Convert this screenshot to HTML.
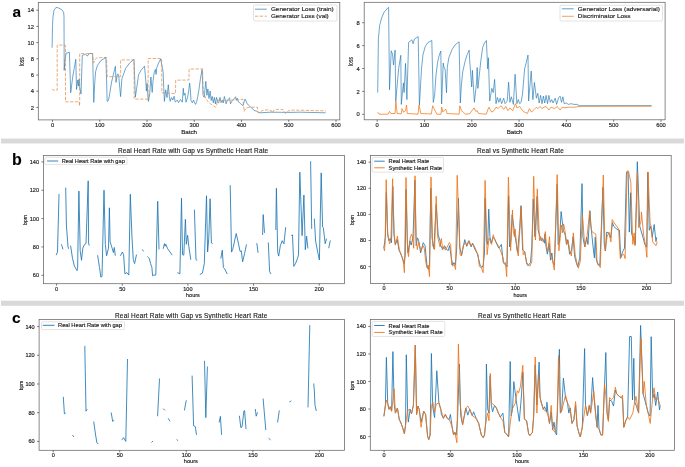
<!DOCTYPE html>
<html><head><meta charset="utf-8"><style>
html,body{margin:0;padding:0;background:#fff;overflow:hidden;width:685px;height:467px;}
svg{display:block;filter:blur(0.4px);}
text{font-family:"Liberation Sans", sans-serif;fill:#222;stroke:#222;stroke-width:0.15px;}
</style></head><body>
<svg width="685" height="467" viewBox="0 0 685 467">
<rect width="685" height="467" fill="#fff"/>
<rect x="1" y="138.55" width="683" height="4.9" fill="#d9d9d9"/>
<rect x="1" y="300.7" width="683" height="5.1" fill="#d9d9d9"/>
<clipPath id="clipA"><rect x="0" y="0" width="20.5" height="30"/></clipPath>
<text x="12.4" y="16.6" font-size="15.5" font-weight="bold" style="fill:#000;stroke:#000;stroke-width:0.1px" clip-path="url(#clipA)">a</text>
<text x="12.0" y="164.8" font-size="16.0" font-weight="bold" style="fill:#000;stroke:#000;stroke-width:0.1px">b</text>
<text x="12.0" y="323.1" font-size="15.5" font-weight="bold" style="fill:#000;stroke:#000;stroke-width:0.1px">c</text>
<clipPath id="cAL"><rect x="38.3" y="2.4" width="301.5" height="117.5"/></clipPath>
<g clip-path="url(#cAL)" fill="none" stroke-linejoin="round" stroke-linecap="butt">
<polyline points="52.1,47.7 52.5,25.7 53,16.7 54,10.3 55.9,7.5 57.9,7.7 61.7,9.6 63.6,12.2 64,16.7 64.2,70.3 65,60 66.2,52.9 67.5,53 69.4,52.2 70.7,92.7 73,75 75.8,59.3 76.5,89.5 77.8,80 78.5,86 79.2,79 79.7,87.5 81,94 82.3,55.4 83.6,54.8 85.5,54.5 87.4,56 88,55 89.3,53.5 92.6,53.5 93.8,102.4 94.6,85 95.6,71.6 97.5,65.2 101.4,60.1 105.9,57.5 107.2,101.5 108.4,100.5 109.1,97.3 111.6,81.9 115.4,66.3 116,82.4 117.4,74 118.6,74.7 120.6,96.6 121.9,78.6 125.7,68.3 129.6,63.1 134,59.3 135.3,97.2 136.6,88.8 138.6,74.7 141.1,70.2 144.5,66.1 145.8,80.8 146.4,91.1 147.1,83.4 148.4,101.4 149.6,95 150.9,77 152.2,92.4 152.9,82.1 154.1,73.1 155.4,69.3 156.1,74.4 156.7,68 158.6,62.9 160.6,59 161.9,65.4 163.1,71.9 163.8,88.6 164.4,101.4 165.7,89.8 167,97.6 168.3,84.7 169.3,96.3 170.2,101.4 171.5,97.6 172.8,100.1 174.1,96.3 175.3,102 177.3,100.1 178.6,102.7 180,100.1 180.7,99.6 182.3,102.2 183.3,88.3 183.9,95.3 185,93.2 186,102.2 187.6,97.4 188.7,91 189.6,83 190.3,88.9 191,100.6 192.4,102.8 193.5,100.1 194.6,102.8 195.6,104.4 196.7,101.7 197.8,96.4 198.9,89.9 200.5,78.2 202.1,69.6 203.1,95.3 204.2,97.4 205.8,81.4 206.9,95.3 207.9,88.9 209,98.5 210.1,91 211.2,100.6 212.2,96.4 213.3,102.8 214.4,97.4 215.4,103.9 216.5,97.4 218,102.8 218.8,102.6 220,97.4 221.1,102.6 222.3,100.3 223.2,102.9 224.4,96.5 225.5,100.9 226.1,103.8 227.3,100.6 228.5,98.8 229.6,97.9 230.5,103.8 231.7,101.5 232.5,100.3 234.3,98.5 235.5,96.8 236.3,100.3 237.2,98.2 238.4,102 239.6,102.6 240.7,103.8 241.9,105 243.1,105.5 244.2,101.5 245.1,99.1 246,100.9 246.9,103.2 248.3,105 250.1,106.7 251.8,107.9 253.6,109.9 255,110.8 256.9,111.1 258.2,112.4 260,112.8 270,112.2 290,112.4 300,112.2 325.7,112.8" stroke="#1f77b4" stroke-width="0.65"/>
<polyline points="52.1,88.9 53.4,90.2 57.2,90.2 57.2,45.1 64.3,45.1 65.5,45.5 65.5,101.8 79.3,101.8 79.5,106 79.7,101.8 79.7,53.5 92.4,53.6 93.7,62.7 95.6,58.8 97,57.8 106.5,57.5 107.2,76.6 120.6,76.6 120.6,59.9 134,59.9 134.2,99.1 148,99.1 148.2,58.5 161.6,58.5 161.9,92.8 175.5,93.5 175.7,80.2 188.9,80 189.1,69.1 202.6,68.8 203.1,91 205.8,98.5 209,102.8 212.2,104.9 215.4,107.1 216.6,106.3 217,100.1 225,100.5 235,99.8 242.9,99.3 244.2,111.5 246,108 250,107.1 256.8,107.2 257.4,107.1 258.2,112.8 259.7,112.5 262,110.7 266.7,109.8 271.4,110.7 272.5,113 273.7,110.1 278.4,109.3 283,109.5 285.4,113.6 288.9,110.5 293.5,110.1 325.7,110.9" stroke="#e3883f" stroke-width="0.7" stroke-dasharray="3.3 1.5"/>
</g>
<rect x="38.3" y="2.4" width="301.5" height="117.5" fill="none" stroke="#666666" stroke-width="0.75"/>
<line x1="52.5" y1="119.9" x2="52.5" y2="121.9" stroke="#333" stroke-width="0.65"/>
<text x="52.5" y="126.88" font-size="5.8" text-anchor="middle">0</text>
<line x1="99.75" y1="119.9" x2="99.75" y2="121.9" stroke="#333" stroke-width="0.65"/>
<text x="99.75" y="126.88" font-size="5.8" text-anchor="middle">100</text>
<line x1="147" y1="119.9" x2="147" y2="121.9" stroke="#333" stroke-width="0.65"/>
<text x="147" y="126.88" font-size="5.8" text-anchor="middle">200</text>
<line x1="194.25" y1="119.9" x2="194.25" y2="121.9" stroke="#333" stroke-width="0.65"/>
<text x="194.25" y="126.88" font-size="5.8" text-anchor="middle">300</text>
<line x1="241.5" y1="119.9" x2="241.5" y2="121.9" stroke="#333" stroke-width="0.65"/>
<text x="241.5" y="126.88" font-size="5.8" text-anchor="middle">400</text>
<line x1="288.75" y1="119.9" x2="288.75" y2="121.9" stroke="#333" stroke-width="0.65"/>
<text x="288.75" y="126.88" font-size="5.8" text-anchor="middle">500</text>
<line x1="336" y1="119.9" x2="336" y2="121.9" stroke="#333" stroke-width="0.65"/>
<text x="336" y="126.88" font-size="5.8" text-anchor="middle">600</text>
<line x1="36.3" y1="107.4" x2="38.3" y2="107.4" stroke="#333" stroke-width="0.65"/>
<text x="33.9" y="109.59" font-size="5.8" text-anchor="end">2</text>
<line x1="36.3" y1="91.2" x2="38.3" y2="91.2" stroke="#333" stroke-width="0.65"/>
<text x="33.9" y="93.39" font-size="5.8" text-anchor="end">4</text>
<line x1="36.3" y1="75" x2="38.3" y2="75" stroke="#333" stroke-width="0.65"/>
<text x="33.9" y="77.19" font-size="5.8" text-anchor="end">6</text>
<line x1="36.3" y1="58.8" x2="38.3" y2="58.8" stroke="#333" stroke-width="0.65"/>
<text x="33.9" y="60.99" font-size="5.8" text-anchor="end">8</text>
<line x1="36.3" y1="42.6" x2="38.3" y2="42.6" stroke="#333" stroke-width="0.65"/>
<text x="33.9" y="44.79" font-size="5.8" text-anchor="end">10</text>
<line x1="36.3" y1="26.4" x2="38.3" y2="26.4" stroke="#333" stroke-width="0.65"/>
<text x="33.9" y="28.59" font-size="5.8" text-anchor="end">12</text>
<line x1="36.3" y1="10.2" x2="38.3" y2="10.2" stroke="#333" stroke-width="0.65"/>
<text x="33.9" y="12.39" font-size="5.8" text-anchor="end">14</text>
<text x="189.1" y="134.3" font-size="5.4" text-anchor="middle" textLength="15.9" lengthAdjust="spacingAndGlyphs">Batch</text>
<text x="24" y="61.65" font-size="6.3" text-anchor="middle" textLength="9" lengthAdjust="spacingAndGlyphs" transform="rotate(-90 24 61.65)">loss</text>
<rect x="253.5" y="5.0" width="83.4" height="16" rx="1.2" fill="#fff" fill-opacity="0.85" stroke="#d0d0d0" stroke-width="0.6"/>
<line x1="255" y1="9.2" x2="266.8" y2="9.2" stroke="#1f77b4" stroke-width="0.7"/>
<text x="270.9" y="11.2" font-size="5.7" textLength="62.7" lengthAdjust="spacingAndGlyphs">Generator Loss (train)</text>
<line x1="255" y1="16.2" x2="266.8" y2="16.2" stroke="#e3883f" stroke-width="0.7" stroke-dasharray="3.3 1.5"/>
<text x="270.9" y="18.2" font-size="5.7" textLength="57.8" lengthAdjust="spacingAndGlyphs">Generator Loss (val)</text>
<clipPath id="cAR"><rect x="364.2" y="2.3" width="300.9" height="117.5"/></clipPath>
<g clip-path="url(#cAR)" fill="none" stroke-linejoin="round" stroke-linecap="butt">
<polyline points="377.7,92.6 378.4,38.6 379.6,25.7 381.6,18 384.1,12.2 388,7.7 388.6,7.5 389.5,89.8 391.2,50.8 392.5,54 393.5,65 395.1,50.1 395.8,101 398.6,68.9 400.8,55.3 401.3,104.4 403.4,82.9 404.1,92.6 405.5,63.4 406.9,99.6 408.6,42.4 411.8,39.8 413.1,43.7 414.3,39.2 418.2,36.6 419.4,105.1 421.5,68.9 422.9,55 425.3,46.3 428,42.5 431.8,40.5 433.3,102.4 434.7,94.4 436,75.1 437.6,62.3 439,56 440.8,51 441.6,104 443.2,63.1 444,67.1 445.2,70 446.5,92.8 447.3,67.1 448.9,57.5 452.1,49.4 455,45 459.1,41.8 460.3,103 461.4,84.8 462.7,72 465.3,60.4 467.2,54.5 469.2,50.1 469.6,59.2 471.7,87 472.4,70.3 474.4,102.3 476.5,82.9 477.2,67.5 477.9,88.4 480.7,62 482.6,47.6 484.5,43 486.4,40.5 487.7,68.9 488.4,57.8 489.7,101 491.8,88.4 493.2,92.6 494.6,79.4 496,103.7 497.4,97.5 498.8,102.3 500.2,98.2 501.6,103.7 503.7,98.2 505.1,103.7 507.2,101 508.6,82.2 509.9,102.3 511.3,96.8 513.4,104.4 515.1,74.3 516.9,103.7 518.3,99.6 519.7,103.7 521.1,102.3 522.5,94 524.6,68.9 525.4,66 528,55.1 528.6,101 531.2,71.1 532.9,99.6 534.4,82.5 536.4,98.2 537.8,93.3 539.2,103 540.6,95.4 542,103.7 543.4,96.1 544.7,103 546.1,95.4 547.5,103.7 548.9,95.4 550.3,102.3 551.7,99.6 553.1,103 555.2,98.2 556.6,104.4 558.7,97.5 560.1,96.1 561.5,102.3 562.9,96.8 564.2,103.7 566.3,103 568.4,104.4 571.2,103.7 574,104.4 576.8,104.4 579.6,105.7 651.5,105.6" stroke="#1f77b4" stroke-width="0.65"/>
<polyline points="377.7,112.1 379,114.2 388.1,114.2 389.5,111.4 390.9,113.5 395.1,113.5 395.8,101 397.2,113.5 401.3,113.8 402,108.6 403.4,112.1 405.5,110.7 406.5,105.1 407.3,113.5 418,114.2 419,105.1 420.8,113.5 431.3,114 432.7,105.8 434,108.6 435.4,111.4 436.8,114.2 441,114.2 441.7,107.2 442.8,112.1 444.5,110 445.9,109.3 447,113.5 459.1,114.2 459.8,105.8 461.5,110.7 463.3,112.1 465.4,114.2 469.6,113.8 472.4,110 474,107.9 475.8,111.4 477.2,110.7 478.6,113.5 486.3,114.2 487.7,110 489,107.2 490.4,110 491.8,112.1 493.9,110.7 496,107.2 498.1,108.6 500.9,105.8 503.7,109.3 505.8,106.5 507.9,110.7 509.9,107.9 512.7,110.7 515.5,103.7 516.9,107.9 519.7,106.5 522.5,110.7 524.6,112.1 527.4,113.5 529.4,108.6 531.5,112.1 534.3,109.3 535,108.6 536.4,107.2 537.8,108.6 539.9,106.5 542,108.6 544,107.2 546.1,106.5 548.9,110 551,107.2 554.5,108.6 557.3,106.5 560.1,110 562.2,107.2 565,107.9 568.4,107.2 574,107.2 576.8,106.8 582.4,106.3 651.5,106.2" stroke="#f07818" stroke-width="0.75"/>
</g>
<rect x="364.2" y="2.3" width="300.9" height="117.5" fill="none" stroke="#666666" stroke-width="0.75"/>
<line x1="377.2" y1="119.8" x2="377.2" y2="121.8" stroke="#333" stroke-width="0.65"/>
<text x="377.2" y="126.78" font-size="5.8" text-anchor="middle">0</text>
<line x1="424.5" y1="119.8" x2="424.5" y2="121.8" stroke="#333" stroke-width="0.65"/>
<text x="424.5" y="126.78" font-size="5.8" text-anchor="middle">100</text>
<line x1="471.8" y1="119.8" x2="471.8" y2="121.8" stroke="#333" stroke-width="0.65"/>
<text x="471.8" y="126.78" font-size="5.8" text-anchor="middle">200</text>
<line x1="519.1" y1="119.8" x2="519.1" y2="121.8" stroke="#333" stroke-width="0.65"/>
<text x="519.1" y="126.78" font-size="5.8" text-anchor="middle">300</text>
<line x1="566.4" y1="119.8" x2="566.4" y2="121.8" stroke="#333" stroke-width="0.65"/>
<text x="566.4" y="126.78" font-size="5.8" text-anchor="middle">400</text>
<line x1="613.7" y1="119.8" x2="613.7" y2="121.8" stroke="#333" stroke-width="0.65"/>
<text x="613.7" y="126.78" font-size="5.8" text-anchor="middle">500</text>
<line x1="661" y1="119.8" x2="661" y2="121.8" stroke="#333" stroke-width="0.65"/>
<text x="661" y="126.78" font-size="5.8" text-anchor="middle">600</text>
<line x1="362.2" y1="114.3" x2="364.2" y2="114.3" stroke="#333" stroke-width="0.65"/>
<text x="359.8" y="116.49" font-size="5.8" text-anchor="end">0</text>
<line x1="362.2" y1="91.4" x2="364.2" y2="91.4" stroke="#333" stroke-width="0.65"/>
<text x="359.8" y="93.59" font-size="5.8" text-anchor="end">2</text>
<line x1="362.2" y1="68.5" x2="364.2" y2="68.5" stroke="#333" stroke-width="0.65"/>
<text x="359.8" y="70.69" font-size="5.8" text-anchor="end">4</text>
<line x1="362.2" y1="45.6" x2="364.2" y2="45.6" stroke="#333" stroke-width="0.65"/>
<text x="359.8" y="47.79" font-size="5.8" text-anchor="end">6</text>
<line x1="362.2" y1="22.7" x2="364.2" y2="22.7" stroke="#333" stroke-width="0.65"/>
<text x="359.8" y="24.89" font-size="5.8" text-anchor="end">8</text>
<text x="514.6" y="134.3" font-size="5.4" text-anchor="middle" textLength="15.8" lengthAdjust="spacingAndGlyphs">Batch</text>
<text x="353.3" y="61.5" font-size="6.3" text-anchor="middle" textLength="9" lengthAdjust="spacingAndGlyphs" transform="rotate(-90 353.3 61.5)">loss</text>
<rect x="560.0" y="5.3" width="102.5" height="15.7" rx="1.2" fill="#fff" fill-opacity="0.85" stroke="#d0d0d0" stroke-width="0.6"/>
<line x1="561.9" y1="8.8" x2="573.7" y2="8.8" stroke="#1f77b4" stroke-width="0.7"/>
<text x="577.8" y="10.8" font-size="5.7" textLength="82" lengthAdjust="spacingAndGlyphs">Generator Loss (adversarial)</text>
<line x1="561.9" y1="16.3" x2="573.7" y2="16.3" stroke="#f07818" stroke-width="0.7"/>
<text x="577.8" y="18.3" font-size="5.7" textLength="52.6" lengthAdjust="spacingAndGlyphs">Discriminator Loss</text>
<clipPath id="cBL"><rect x="43.4" y="155.4" width="301" height="128.3"/></clipPath>
<g clip-path="url(#cBL)" fill="none" stroke-linejoin="round" stroke-linecap="butt">
<polyline points="56.2,255.2 57.5,252 59,194" stroke="#1f77b4" stroke-width="0.85"/>
<polyline points="61.3,244.3 62.2,246.5 62.9,249.4" stroke="#1f77b4" stroke-width="0.85"/>
<polyline points="65.7,187.6 66.4,225 68,246.8 68.6,248.8" stroke="#1f77b4" stroke-width="0.85"/>
<polyline points="70.6,245.6 72.5,258.4 74.4,266.1 77,270.6 77.6,268.7 78.9,191.1 80.2,250.7 81.5,260.3 82.8,248.1 84.5,244.5 86,243.6 88.2,180.8 88.6,243 89.2,245.6" stroke="#1f77b4" stroke-width="0.85"/>
<polyline points="97.6,255.2 99.5,267.4 100.8,277.1 102,276.4 104,190.2 105.3,244.3 106.6,255.8 108.5,248.1 109.4,207.8 110.1,241.7 112.1,248.1 113.4,252.6 114.3,247.5 115.3,255.8" stroke="#1f77b4" stroke-width="0.85"/>
<polyline points="120.4,255.8 122.4,252 123.6,254.6 124.9,273.8 126.9,272.6 128.8,275.1 130.3,194.3 132,237.9 133.3,259.7 134.6,263.6 136.5,254.6" stroke="#1f77b4" stroke-width="0.85"/>
<polyline points="142.3,249.4 143.6,251.4" stroke="#1f77b4" stroke-width="0.85"/>
<polyline points="147.4,256.5 149.3,258.4 150.6,263.6 151.9,267.4 152.6,275.8 153.8,275.1 155.8,275.1 157.7,201.3 159,249.4" stroke="#1f77b4" stroke-width="0.85"/>
<polyline points="163.2,248.8 164.5,243.6 165.1,246.2 165.8,244.3 167.7,248.8 172.2,255.2" stroke="#1f77b4" stroke-width="0.85"/>
<polyline points="177.4,272.6 179.9,273.8 181.5,198.1 182.5,254.6 183.8,255.2 185.4,219.3 186.3,244.3 187.6,235.3 188.9,246.9 190.8,259.7" stroke="#1f77b4" stroke-width="0.85"/>
<polyline points="194.4,209.7 196,259.7 197.3,260.3" stroke="#1f77b4" stroke-width="0.85"/>
<polyline points="199.8,274.5 202.4,273.2 204.3,263.6 206.5,195.8 207.6,252 208.8,237.9 210.1,198.8 211.4,243 212.7,243.6" stroke="#1f77b4" stroke-width="0.85"/>
<polyline points="220.8,258.6 222.3,250.2 223.4,267.6 224.6,268.8 227.2,274" stroke="#1f77b4" stroke-width="0.85"/>
<polyline points="230.2,185.1 231.5,252.1 232.7,249.6 236.2,233.5 238.1,241.9 240.1,251.5 241.3,250.8 242.6,261.8 244.6,253.4 246.5,244.4" stroke="#1f77b4" stroke-width="0.85"/>
<polyline points="256.8,243.1 258.1,252.8" stroke="#1f77b4" stroke-width="0.85"/>
<polyline points="262.6,235 263.2,214.6 264.5,232.9" stroke="#1f77b4" stroke-width="0.85"/>
<polyline points="268.3,242.5 269.6,271.4 270.9,274" stroke="#1f77b4" stroke-width="0.85"/>
<polyline points="275.8,230 276.4,188.3 277.7,252.3 278.7,256.1 280.3,245.8 282.2,240.7 283.9,243.9 285.7,227.2" stroke="#1f77b4" stroke-width="0.85"/>
<polyline points="291.2,235.6 292.5,234.9 293.8,266.4 295.7,263.2 297.6,258.1 298.5,254.8 299.8,172.2 302.1,235.6 303.9,195 305.3,249.7 306.6,236.2 307.9,248.4" stroke="#1f77b4" stroke-width="0.85"/>
<polyline points="310.6,161.3 311.7,228.9" stroke="#1f77b4" stroke-width="0.85"/>
<polyline points="314.3,218.6 315.6,241.1 318.1,254 319.4,260 321.2,172.9 322.6,227 323.3,227.6 325.2,243.7 326.5,238.6" stroke="#1f77b4" stroke-width="0.85"/>
<polyline points="328.7,248.2 330.3,240.5" stroke="#1f77b4" stroke-width="0.85"/>
</g>
<rect x="43.4" y="155.4" width="301" height="128.3" fill="none" stroke="#666666" stroke-width="0.75"/>
<line x1="56.6" y1="283.7" x2="56.6" y2="285.7" stroke="#333" stroke-width="0.65"/>
<text x="56.6" y="290.5" font-size="5.0" text-anchor="middle" textLength="3.1" lengthAdjust="spacingAndGlyphs">0</text>
<line x1="122.25" y1="283.7" x2="122.25" y2="285.7" stroke="#333" stroke-width="0.65"/>
<text x="122.25" y="290.5" font-size="5.0" text-anchor="middle" textLength="6.2" lengthAdjust="spacingAndGlyphs">50</text>
<line x1="187.9" y1="283.7" x2="187.9" y2="285.7" stroke="#333" stroke-width="0.65"/>
<text x="187.9" y="290.5" font-size="5.0" text-anchor="middle" textLength="9.3" lengthAdjust="spacingAndGlyphs">100</text>
<line x1="253.55" y1="283.7" x2="253.55" y2="285.7" stroke="#333" stroke-width="0.65"/>
<text x="253.55" y="290.5" font-size="5.0" text-anchor="middle" textLength="9.3" lengthAdjust="spacingAndGlyphs">150</text>
<line x1="319.2" y1="283.7" x2="319.2" y2="285.7" stroke="#333" stroke-width="0.65"/>
<text x="319.2" y="290.5" font-size="5.0" text-anchor="middle" textLength="9.3" lengthAdjust="spacingAndGlyphs">200</text>
<line x1="41.4" y1="275.3" x2="43.4" y2="275.3" stroke="#333" stroke-width="0.65"/>
<text x="39" y="277.3" font-size="5.0" text-anchor="end" textLength="6.2" lengthAdjust="spacingAndGlyphs">60</text>
<line x1="41.4" y1="246.95" x2="43.4" y2="246.95" stroke="#333" stroke-width="0.65"/>
<text x="39" y="248.95" font-size="5.0" text-anchor="end" textLength="6.2" lengthAdjust="spacingAndGlyphs">80</text>
<line x1="41.4" y1="218.6" x2="43.4" y2="218.6" stroke="#333" stroke-width="0.65"/>
<text x="39" y="220.6" font-size="5.0" text-anchor="end" textLength="9.3" lengthAdjust="spacingAndGlyphs">100</text>
<line x1="41.4" y1="190.25" x2="43.4" y2="190.25" stroke="#333" stroke-width="0.65"/>
<text x="39" y="192.25" font-size="5.0" text-anchor="end" textLength="9.3" lengthAdjust="spacingAndGlyphs">120</text>
<line x1="41.4" y1="161.9" x2="43.4" y2="161.9" stroke="#333" stroke-width="0.65"/>
<text x="39" y="163.9" font-size="5.0" text-anchor="end" textLength="9.3" lengthAdjust="spacingAndGlyphs">140</text>
<text x="192.9" y="296.7" font-size="5.2" text-anchor="middle" textLength="13.7" lengthAdjust="spacingAndGlyphs">hours</text>
<text x="26.9" y="219.9" font-size="5.8" text-anchor="middle" textLength="9.7" lengthAdjust="spacingAndGlyphs" transform="rotate(-90 26.9 219.9)">bpm</text>
<text x="193.05" y="152.9" font-size="6.45" text-anchor="middle" textLength="150.3" lengthAdjust="spacing">Real Heart Rate with Gap vs Synthetic Heart Rate</text>
<rect x="44.8" y="157.2" width="82.2" height="7.4" rx="1.2" fill="#fff" fill-opacity="0.85" stroke="#d0d0d0" stroke-width="0.6"/>
<line x1="47" y1="161.0" x2="58.2" y2="161.0" stroke="#1f77b4" stroke-width="0.9"/>
<text x="61.7" y="163" font-size="5.2" textLength="63.1" lengthAdjust="spacingAndGlyphs">Real Heart Rate with gap</text>
<clipPath id="cBR"><rect x="370.5" y="155.4" width="300.7" height="128.1"/></clipPath>
<g clip-path="url(#cBR)" fill="none" stroke-linejoin="round" stroke-linecap="butt">
<polyline points="383.9,247.46 385.38,237.18 386.37,191.92 387.65,234.82 388.94,240.86 390.22,238.41 391.5,242.65 392.79,186.45 393.97,234.82 395.26,244.44 397.23,239.63 399.11,250.57 400.39,252.93 402.26,257.83 404.14,263.87 405.23,255.66 406.02,189.47 407.3,241.52 407.99,252.93 409.87,240.86 411.15,245.1 413.03,237.18 414.9,180.32 416.18,245.67 417.47,237.84 418.75,240.86 420.63,252.93 423.19,242.65 425.07,245.67 427.04,266.32 428.23,269.33 429.51,265.09 430.79,188.24 432.08,238.41 433.95,248.68 436.13,204.55 438.2,234.82 440.07,240.86 440.67,245.67 442.64,249.34 444.52,245.67 446.39,249.34 448.27,250.57 449.55,245.67 451.53,259.06 452.71,265.09 453.99,262.64 455.28,265.09 456.56,250.95 458.44,198.24 459.72,246.89 461.6,255.38 464.75,239.63 466.73,246.33 468.61,240.86 471.17,246.89 472.46,243.21 474.92,249.34 477.49,254.15 480.06,265.09 481.93,267.54 483.22,265.09 484.5,252.93 485.09,198.24 486.37,240.57 487.66,244.35 488.74,209.17 489.93,236.8 491.21,243.21 493.09,237.18 494.96,239.63 496.94,244.44 498.81,248.12 501.38,244.44 503.26,262.64 505.13,264.43 507.01,266.88 508.59,195.78 509.57,246.89 510.86,240.86 512.14,214.74 514.61,232.94 517.57,252.17 519.74,227.37 521.03,205.68 522.61,250 524.78,251.7 526.75,263.87 527.94,265.66 530.5,262.64 531.79,246.89 533.27,199.08 534.95,236.8 537.12,196.35 538.1,229.92 539.39,234.82 541.26,240.86 542.55,238.41 544.52,243.21 544.82,234.16 546.1,246.89 547.38,254.15 549.06,243.4 550.54,260.19 551.83,252.93 553.11,262.64 554.39,265.09 557.16,184.28 558.14,244.44 559.43,242.08 561.11,211.53 563.28,230.2 565.15,234.82 566.44,244.44 567.72,239.63 569.6,254.15 571.47,250.57 573.15,236.8 574.63,256.6 576.61,263.87 577.79,266.88 579.76,257.83 582.04,183.62 582.92,237.18 584.8,246.89 586.68,237.18 587.96,244.44 589.93,210.97 591.12,227.37 593.09,246.89 594.38,257.83 595.26,237.18 596.25,259.06 598.13,265.09 599.81,265.09 602.96,187.3 604.25,244.44 605.53,250.95 606.72,232.09 608.69,233.03 610.57,237.84 612.44,222.66 613.72,226.34 616.29,228.69 618.17,229.92 619.45,230.2 620.73,257.83 622.61,251.7 624.49,248.12 626.46,172.21 628.14,172.21 629.32,232.09 630.61,192.77 631.49,233.6 633.37,238.41 635.34,244.44 637.32,161.74 639.79,226.34 642.95,237.18 644.82,244.44 646.7,247.18 647.78,172.4 649.26,230.2 650.74,226.34 652.23,237.27 654.2,224.54 655.19,234.45 655.98,241.52 656.67,237.27" stroke="#1f77b4" stroke-width="0.85"/>
<polyline points="383.6,247 384.5,250.8 385.1,243.1 386.2,179.6 387.7,232.9 389.6,243.8 390.9,240.6 392.6,178.7 394.1,232.9 395.4,245.1 397.4,236.1 399.3,249.6 401.2,254.7 403.1,259.8 404.4,272.7 406,177.5 407.6,249.6 408.5,256.6 410.2,238 411.5,234.1 412.8,238 413.7,248.3 415,175.8 416,236.7 417.3,249.6 418.6,242.5 421.1,250.8 423.1,245.7 424.3,248.3 425.6,261.1 426.9,267.6 428.2,265 429.5,276.6 431,177.1 432.7,245.7 434.6,249.6 436.2,196.3 437.6,236.7 440.1,247 441.4,238.6 442.7,249.6 444,247 445.3,250.2 447.2,247 449.4,242.5 450.7,245.1 451.7,265 453,266.3 454.3,265 455.6,269.5 457.2,175.3 460.1,254.7 461.3,256 463.3,245.7 465.2,242.5 467.1,245.7 469.1,240.6 471,245.7 472.9,243.8 474.8,247 476.8,252.1 478.1,254.7 479.3,266.3 481.3,267.6 483.2,272.7 485.1,180.4 487.1,254.7 489,238 491.6,244.4 493.2,234.8 495.1,240.6 497.1,243.8 499,247 500.3,250.2 502.9,257.3 504.1,263.7 505.4,262.4 506.7,276.6 508.4,177.2 510.6,250.8 512.5,210 513.1,230.3 514.4,236.7 515.1,229 517,249.6 518.3,256 521.2,206.4 523.2,254.7 524.7,252.1 526.6,262.4 528.6,265 529.8,266.3 531.8,261.8 533.7,176.3 535.5,240 537.3,188.8 539.5,240.6 540.8,236.7 542.1,241.2 544,240.6 545.3,231.6 546.6,247 547.8,251.5 549.5,236.7 550.8,258.6 552.1,258.6 553.4,265 554.3,270.1 557.2,174.6 558.9,250.8 559.8,241.9 561.3,225 562.4,232.9 563.6,223.9 564.9,230.3 566.9,244.4 568.1,240.6 570.1,252.1 571.4,256 573.3,232.9 575.2,254.7 577.1,263.7 578.4,268.2 580.3,261.1 582.3,215 583.6,230.3 584.8,247 586.8,239.3 589.7,210.6 590.6,225 591.9,231.6 593.8,232.9 595.8,234.1 597.1,262.4 599,265 600.3,267.6 603.3,175 605.1,250.8 607.1,236.7 609,232.2 610.9,241.9 612.2,219.6 614.1,222.6 616.7,226.4 618.6,229 620.3,258.6 621.9,255.3 623.8,254.1 625.1,258.6 627.1,171 628.5,171 630.8,182.4 632.8,244.4 634.1,232.9 635,245.7 637.5,171.9 638.6,227.7 641.1,221.3 641.4,211.9 643.7,235.4 645.6,245.7 646.9,257.3 648,171.9 650.1,222.6 651.4,227.7 652.7,241.9 655.9,245.7 657.2,241.9" stroke="#f07416" stroke-width="0.85"/>
</g>
<rect x="370.5" y="155.4" width="300.7" height="128.1" fill="none" stroke="#666666" stroke-width="0.75"/>
<line x1="384.1" y1="283.5" x2="384.1" y2="285.5" stroke="#333" stroke-width="0.65"/>
<text x="384.1" y="290.3" font-size="5.0" text-anchor="middle" textLength="3.1" lengthAdjust="spacingAndGlyphs">0</text>
<line x1="449.7" y1="283.5" x2="449.7" y2="285.5" stroke="#333" stroke-width="0.65"/>
<text x="449.7" y="290.3" font-size="5.0" text-anchor="middle" textLength="6.2" lengthAdjust="spacingAndGlyphs">50</text>
<line x1="515.3" y1="283.5" x2="515.3" y2="285.5" stroke="#333" stroke-width="0.65"/>
<text x="515.3" y="290.3" font-size="5.0" text-anchor="middle" textLength="9.3" lengthAdjust="spacingAndGlyphs">100</text>
<line x1="580.9" y1="283.5" x2="580.9" y2="285.5" stroke="#333" stroke-width="0.65"/>
<text x="580.9" y="290.3" font-size="5.0" text-anchor="middle" textLength="9.3" lengthAdjust="spacingAndGlyphs">150</text>
<line x1="646.5" y1="283.5" x2="646.5" y2="285.5" stroke="#333" stroke-width="0.65"/>
<text x="646.5" y="290.3" font-size="5.0" text-anchor="middle" textLength="9.3" lengthAdjust="spacingAndGlyphs">200</text>
<line x1="368.5" y1="266.6" x2="370.5" y2="266.6" stroke="#333" stroke-width="0.65"/>
<text x="366.1" y="268.6" font-size="5.0" text-anchor="end" textLength="6.2" lengthAdjust="spacingAndGlyphs">60</text>
<line x1="368.5" y1="240.48" x2="370.5" y2="240.48" stroke="#333" stroke-width="0.65"/>
<text x="366.1" y="242.48" font-size="5.0" text-anchor="end" textLength="6.2" lengthAdjust="spacingAndGlyphs">80</text>
<line x1="368.5" y1="214.36" x2="370.5" y2="214.36" stroke="#333" stroke-width="0.65"/>
<text x="366.1" y="216.36" font-size="5.0" text-anchor="end" textLength="9.3" lengthAdjust="spacingAndGlyphs">100</text>
<line x1="368.5" y1="188.24" x2="370.5" y2="188.24" stroke="#333" stroke-width="0.65"/>
<text x="366.1" y="190.24" font-size="5.0" text-anchor="end" textLength="9.3" lengthAdjust="spacingAndGlyphs">120</text>
<line x1="368.5" y1="162.12" x2="370.5" y2="162.12" stroke="#333" stroke-width="0.65"/>
<text x="366.1" y="164.12" font-size="5.0" text-anchor="end" textLength="9.3" lengthAdjust="spacingAndGlyphs">140</text>
<text x="520.3" y="296.7" font-size="5.2" text-anchor="middle" textLength="13.5" lengthAdjust="spacingAndGlyphs">hours</text>
<text x="354.3" y="219.9" font-size="5.8" text-anchor="middle" textLength="9.7" lengthAdjust="spacingAndGlyphs" transform="rotate(-90 354.3 219.9)">bpm</text>
<text x="520.45" y="152.9" font-size="6.45" text-anchor="middle" textLength="86.9" lengthAdjust="spacing">Real vs Synthetic Heart Rate</text>
<rect x="372.2" y="157.3" width="71.3" height="14.8" rx="1.2" fill="#fff" fill-opacity="0.85" stroke="#d0d0d0" stroke-width="0.6"/>
<line x1="374.2" y1="161.2" x2="384.7" y2="161.2" stroke="#1f77b4" stroke-width="0.9"/>
<text x="388.6" y="163.2" font-size="5.2" textLength="40.6" lengthAdjust="spacingAndGlyphs">Real Heart Rate</text>
<line x1="374.2" y1="167.8" x2="384.7" y2="167.8" stroke="#f07416" stroke-width="0.9"/>
<text x="388.6" y="169.8" font-size="5.2" textLength="53.5" lengthAdjust="spacingAndGlyphs">Synthetic Heart Rate</text>
<clipPath id="cCL"><rect x="39.1" y="319.4" width="305.4" height="130.9"/></clipPath>
<g clip-path="url(#cCL)" fill="none" stroke-linejoin="round" stroke-linecap="butt">
<polyline points="63.3,396.8 64.4,413.8 65.7,413.1" stroke="#1f77b4" stroke-width="0.85"/>
<polyline points="72.5,435 73.8,436.9" stroke="#1f77b4" stroke-width="0.85"/>
<polyline points="84.8,345.8 86,411.2 87.3,409.3" stroke="#1f77b4" stroke-width="0.85"/>
<polyline points="93.7,421.5 95.6,435 96.9,442.7 98.2,444" stroke="#1f77b4" stroke-width="0.85"/>
<polyline points="111.2,412.5 112.7,421.5 114,420.2" stroke="#1f77b4" stroke-width="0.85"/>
<polyline points="121.7,440.1 123.6,437.6 125.8,441.4 127.5,359" stroke="#1f77b4" stroke-width="0.85"/>
<polyline points="151.5,442.5 153,441" stroke="#1f77b4" stroke-width="0.85"/>
<polyline points="157.6,416.2 159.5,378.5" stroke="#1f77b4" stroke-width="0.85"/>
<polyline points="163.3,408.6 164.9,410.4" stroke="#1f77b4" stroke-width="0.85"/>
<polyline points="168.2,418.3 170,421.4" stroke="#1f77b4" stroke-width="0.85"/>
<polyline points="176.6,439.5 178.1,440.7" stroke="#1f77b4" stroke-width="0.85"/>
<polyline points="184.4,410.4 186.3,400.3" stroke="#1f77b4" stroke-width="0.85"/>
<polyline points="192.1,375.6 193.6,425.8 195.3,426.6 196.5,434.9" stroke="#1f77b4" stroke-width="0.85"/>
<polyline points="204.5,360.8 205.8,417.6 207.4,366.5" stroke="#1f77b4" stroke-width="0.85"/>
<polyline points="219.1,422.5 220.4,416.4 221.6,434.9" stroke="#1f77b4" stroke-width="0.85"/>
<polyline points="239.4,415.8 240.8,427.6 242,427 243.9,411 244.6,410.6 246,429.1" stroke="#1f77b4" stroke-width="0.85"/>
<polyline points="255.3,409 256.2,416.2 257.6,412.4" stroke="#1f77b4" stroke-width="0.85"/>
<polyline points="263.1,398.5 265.8,430" stroke="#1f77b4" stroke-width="0.85"/>
<polyline points="268.6,438.2 270.6,439.9" stroke="#1f77b4" stroke-width="0.85"/>
<polyline points="277.6,422.5 279.3,410.4" stroke="#1f77b4" stroke-width="0.85"/>
<polyline points="289.4,402 291.3,400.8" stroke="#1f77b4" stroke-width="0.85"/>
<polyline points="308,407.4 309.8,325.1" stroke="#1f77b4" stroke-width="0.85"/>
<polyline points="313.7,383.5 314.3,390 315,405.4 316.3,411" stroke="#1f77b4" stroke-width="0.85"/>
</g>
<rect x="39.1" y="319.4" width="305.4" height="130.9" fill="none" stroke="#666666" stroke-width="0.75"/>
<line x1="53.2" y1="450.3" x2="53.2" y2="452.3" stroke="#333" stroke-width="0.65"/>
<text x="53.2" y="457.1" font-size="5.0" text-anchor="middle" textLength="3.1" lengthAdjust="spacingAndGlyphs">0</text>
<line x1="119.75" y1="450.3" x2="119.75" y2="452.3" stroke="#333" stroke-width="0.65"/>
<text x="119.75" y="457.1" font-size="5.0" text-anchor="middle" textLength="6.2" lengthAdjust="spacingAndGlyphs">50</text>
<line x1="186.3" y1="450.3" x2="186.3" y2="452.3" stroke="#333" stroke-width="0.65"/>
<text x="186.3" y="457.1" font-size="5.0" text-anchor="middle" textLength="9.3" lengthAdjust="spacingAndGlyphs">100</text>
<line x1="252.85" y1="450.3" x2="252.85" y2="452.3" stroke="#333" stroke-width="0.65"/>
<text x="252.85" y="457.1" font-size="5.0" text-anchor="middle" textLength="9.3" lengthAdjust="spacingAndGlyphs">150</text>
<line x1="319.4" y1="450.3" x2="319.4" y2="452.3" stroke="#333" stroke-width="0.65"/>
<text x="319.4" y="457.1" font-size="5.0" text-anchor="middle" textLength="9.3" lengthAdjust="spacingAndGlyphs">200</text>
<line x1="37.1" y1="441.4" x2="39.1" y2="441.4" stroke="#333" stroke-width="0.65"/>
<text x="34.7" y="443.4" font-size="5.0" text-anchor="end" textLength="6.2" lengthAdjust="spacingAndGlyphs">60</text>
<line x1="37.1" y1="412.7" x2="39.1" y2="412.7" stroke="#333" stroke-width="0.65"/>
<text x="34.7" y="414.7" font-size="5.0" text-anchor="end" textLength="6.2" lengthAdjust="spacingAndGlyphs">80</text>
<line x1="37.1" y1="384" x2="39.1" y2="384" stroke="#333" stroke-width="0.65"/>
<text x="34.7" y="386" font-size="5.0" text-anchor="end" textLength="9.3" lengthAdjust="spacingAndGlyphs">100</text>
<line x1="37.1" y1="355.3" x2="39.1" y2="355.3" stroke="#333" stroke-width="0.65"/>
<text x="34.7" y="357.3" font-size="5.0" text-anchor="end" textLength="9.3" lengthAdjust="spacingAndGlyphs">120</text>
<line x1="37.1" y1="326.6" x2="39.1" y2="326.6" stroke="#333" stroke-width="0.65"/>
<text x="34.7" y="328.6" font-size="5.0" text-anchor="end" textLength="9.3" lengthAdjust="spacingAndGlyphs">140</text>
<text x="190.8" y="463.1" font-size="5.2" text-anchor="middle" textLength="14" lengthAdjust="spacingAndGlyphs">hours</text>
<text x="23.3" y="385.5" font-size="5.8" text-anchor="middle" textLength="9.6" lengthAdjust="spacingAndGlyphs" transform="rotate(-90 23.3 385.5)">bpm</text>
<text x="191.2" y="317.6" font-size="6.45" text-anchor="middle" textLength="152.4" lengthAdjust="spacing">Real Heart Rate with Gap vs Synthetic Heart Rate</text>
<rect x="41.5" y="321.8" width="83.1" height="7.8" rx="1.2" fill="#fff" fill-opacity="0.85" stroke="#d0d0d0" stroke-width="0.6"/>
<line x1="42.8" y1="325.3" x2="54.5" y2="325.3" stroke="#1f77b4" stroke-width="0.9"/>
<text x="58" y="327.3" font-size="5.2" textLength="64" lengthAdjust="spacingAndGlyphs">Real Heart Rate with gap</text>
<clipPath id="cCR"><rect x="370.3" y="319.4" width="304.1" height="130.9"/></clipPath>
<g clip-path="url(#cCR)" fill="none" stroke-linejoin="round" stroke-linecap="butt">
<polyline points="383.9,416.3 385.4,405.4 386.4,357.4 387.7,402.9 389,409.3 390.3,406.7 391.6,411.2 392.9,351.6 394.1,402.9 395.4,413.1 397.4,408 399.3,419.6 400.6,422.1 402.5,427.3 404.4,433.7 405.5,425 406.3,354.8 407.6,410 408.3,422.1 410.2,409.3 411.5,413.8 413.4,405.4 415.3,345.1 416.6,414.4 417.9,406.1 419.2,409.3 421.1,422.1 423.7,411.2 425.6,414.4 427.6,436.3 428.8,439.5 430.1,435 431.4,353.5 432.7,406.7 434.6,417.6 436.8,370.8 438.9,402.9 440.8,409.3 441.4,414.4 443.4,418.3 445.3,414.4 447.2,418.3 449.1,419.6 450.4,414.4 452.4,428.6 453.6,435 454.9,432.4 456.2,435 457.5,420 459.4,364.1 460.7,415.7 462.6,424.7 465.8,408 467.8,415.1 469.7,409.3 472.3,415.7 473.6,411.8 476.1,418.3 478.7,423.4 481.3,435 483.2,437.6 484.5,435 485.8,422.1 486.4,364.1 487.7,409 489,413 490.1,375.7 491.3,405 492.6,411.8 494.5,405.4 496.4,408 498.4,413.1 500.3,417 502.9,413.1 504.8,432.4 506.7,434.3 508.6,436.9 510.2,361.5 511.2,415.7 512.5,409.3 513.8,381.6 516.3,400.9 519.3,421.3 521.5,395 522.8,372 524.4,419 526.6,420.8 528.6,433.7 529.8,435.6 532.4,432.4 533.7,415.7 535.2,365 536.9,405 539.1,362.1 540.1,397.7 541.4,402.9 543.3,409.3 544.6,406.7 546.6,411.8 546.9,402.2 548.2,415.7 549.5,423.4 551.2,412 552.7,429.8 554,422.1 555.3,432.4 556.6,435 559.4,349.3 560.4,413.1 561.7,410.6 563.4,378.2 565.6,398 567.5,402.9 568.8,413.1 570.1,408 572,423.4 573.9,419.6 575.6,405 577.1,426 579.1,433.7 580.3,436.9 582.3,427.3 584.6,348.6 585.5,405.4 587.4,415.7 589.3,405.4 590.6,413.1 592.6,377.6 593.8,395 595.8,415.7 597.1,427.3 598,405.4 599,428.6 600.9,435 602.6,435 605.8,352.5 607.1,413.1 608.4,420 609.6,400 611.6,401 613.5,406.1 615.4,390 616.7,393.9 619.3,396.4 621.2,397.7 622.5,398 623.8,427.3 625.7,420.8 627.6,417 629.6,336.5 631.3,336.5 632.5,400 633.8,358.3 634.7,401.6 636.6,406.7 638.6,413.1 640.6,325.4 643.1,393.9 646.3,405.4 648.2,413.1 650.1,416 651.2,336.7 652.7,398 654.2,393.9 655.7,405.5 657.7,392 658.7,402.5 659.5,410 660.2,405.5" stroke="#1f77b4" stroke-width="0.85"/>
<polyline points="383.9,416.3 385.4,405.4 386.5,400 387.7,404 389,409.3 390.3,406.7 391.6,411.2 393,400 394.1,388.8 395.4,413.1 397.4,408 399.3,419.6 400.6,422.1 402.5,427.3 404.4,433.7 405.7,424.7 407.6,410.6 409.6,409.3 411.5,413.8 413.4,405.4 415.3,345.1 416.6,414.4 417.9,406.1 419.2,409.3 421.1,427.3 423.7,411.2 425.6,414.4 427.6,436.3 428.8,439.5 430.1,435 431.4,406.7 432.7,402 434.6,412 436.3,404.1 438.9,402.9 440.8,409.3 443.4,418.3 445.3,414.4 447.2,418.3 449.1,419.6 450.4,422.1 452.4,428.6 453.6,435 454.9,432.4 456.9,442.7 458.4,344.1 460.1,402.9 462.6,424.7 465.8,408 467.8,406.1 469.7,409.3 472.3,415.7 476.1,418.3 478.7,423.4 481.3,435 483.2,437.6 484.5,435 485.8,422.1 487.7,413.1 489,420.8 490.3,373.4 491.3,402.9 494.5,405.4 496.4,408 498.4,413.1 500.3,417 502.9,420.8 504.8,432.4 506.7,434.3 508.6,436.9 511.2,415.7 512.2,409 514.4,405 515.3,403 517.3,390.7 518.7,392.8 520.4,386.7 522.8,365.3 524.4,419 526.6,420.8 528.6,433.7 529.8,435.6 532.4,432.4 533.7,415.7 535.2,357 536.9,413.1 538.4,375 540.1,397.7 541.4,402.9 543.3,409.3 546.6,411.8 548.2,415.7 549.5,423.4 551.2,405.4 552.7,429.8 555.3,432.4 557.2,415.7 558.5,355.7 560.4,413.1 561.7,410.6 565.6,395.1 567.5,402.9 570.1,408 572,423.4 573.9,419.6 575.6,401.6 577.1,426 579.1,433.7 580.3,436.9 582.3,427.3 585.5,405.4 587.4,415.7 589.3,405.4 590.6,413.1 593.8,391.3 595.8,415.7 597.1,427.3 599,428.6 600.9,435 602.6,435 604.5,384 605.8,395 607.1,413.1 608.4,421.5 609.6,397.7 611.6,399.6 613.5,397.7 615.4,387.2 616.7,393.9 619.3,396.4 621.2,397.7 622.5,395.1 623.8,427.3 625.7,420.8 627.6,417 629.6,419.6 632.8,413.1 634.7,401.6 636,396.4 638.6,413.1 640.9,338 643.1,393.9 644.3,381.4 646.3,405.4 648.2,413.1 650.2,423.4 652.7,398 654,387.8 655.7,400 657.7,398 660.2,405.5" stroke="#f07416" stroke-width="0.85"/>
</g>
<rect x="370.3" y="319.4" width="304.1" height="130.9" fill="none" stroke="#666666" stroke-width="0.75"/>
<line x1="384.1" y1="450.3" x2="384.1" y2="452.3" stroke="#333" stroke-width="0.65"/>
<text x="384.1" y="457.1" font-size="5.0" text-anchor="middle" textLength="3.1" lengthAdjust="spacingAndGlyphs">0</text>
<line x1="450.55" y1="450.3" x2="450.55" y2="452.3" stroke="#333" stroke-width="0.65"/>
<text x="450.55" y="457.1" font-size="5.0" text-anchor="middle" textLength="6.2" lengthAdjust="spacingAndGlyphs">50</text>
<line x1="517" y1="450.3" x2="517" y2="452.3" stroke="#333" stroke-width="0.65"/>
<text x="517" y="457.1" font-size="5.0" text-anchor="middle" textLength="9.3" lengthAdjust="spacingAndGlyphs">100</text>
<line x1="583.45" y1="450.3" x2="583.45" y2="452.3" stroke="#333" stroke-width="0.65"/>
<text x="583.45" y="457.1" font-size="5.0" text-anchor="middle" textLength="9.3" lengthAdjust="spacingAndGlyphs">150</text>
<line x1="649.9" y1="450.3" x2="649.9" y2="452.3" stroke="#333" stroke-width="0.65"/>
<text x="649.9" y="457.1" font-size="5.0" text-anchor="middle" textLength="9.3" lengthAdjust="spacingAndGlyphs">200</text>
<line x1="368.3" y1="436.6" x2="370.3" y2="436.6" stroke="#333" stroke-width="0.65"/>
<text x="365.9" y="438.6" font-size="5.0" text-anchor="end" textLength="6.2" lengthAdjust="spacingAndGlyphs">60</text>
<line x1="368.3" y1="409.06" x2="370.3" y2="409.06" stroke="#333" stroke-width="0.65"/>
<text x="365.9" y="411.06" font-size="5.0" text-anchor="end" textLength="6.2" lengthAdjust="spacingAndGlyphs">80</text>
<line x1="368.3" y1="381.52" x2="370.3" y2="381.52" stroke="#333" stroke-width="0.65"/>
<text x="365.9" y="383.52" font-size="5.0" text-anchor="end" textLength="9.3" lengthAdjust="spacingAndGlyphs">100</text>
<line x1="368.3" y1="353.98" x2="370.3" y2="353.98" stroke="#333" stroke-width="0.65"/>
<text x="365.9" y="355.98" font-size="5.0" text-anchor="end" textLength="9.3" lengthAdjust="spacingAndGlyphs">120</text>
<line x1="368.3" y1="326.44" x2="370.3" y2="326.44" stroke="#333" stroke-width="0.65"/>
<text x="365.9" y="328.44" font-size="5.0" text-anchor="end" textLength="9.3" lengthAdjust="spacingAndGlyphs">140</text>
<text x="521.9" y="463.1" font-size="5.2" text-anchor="middle" textLength="14" lengthAdjust="spacingAndGlyphs">hours</text>
<text x="353.8" y="385.4" font-size="5.8" text-anchor="middle" textLength="9.6" lengthAdjust="spacingAndGlyphs" transform="rotate(-90 353.8 385.4)">bpm</text>
<text x="522" y="317.6" font-size="6.45" text-anchor="middle" textLength="88" lengthAdjust="spacing">Real vs Synthetic Heart Rate</text>
<rect x="372.2" y="321.4" width="72.6" height="15" rx="1.2" fill="#fff" fill-opacity="0.85" stroke="#d0d0d0" stroke-width="0.6"/>
<line x1="374.2" y1="325.5" x2="384.7" y2="325.5" stroke="#1f77b4" stroke-width="0.9"/>
<text x="388.6" y="327.5" font-size="5.2" textLength="40.8" lengthAdjust="spacingAndGlyphs">Real Heart Rate</text>
<line x1="374.2" y1="332.4" x2="384.7" y2="332.4" stroke="#f07416" stroke-width="0.9"/>
<text x="388.6" y="334.4" font-size="5.2" textLength="54.2" lengthAdjust="spacingAndGlyphs">Synthetic Heart Rate</text>
</svg>
</body></html>
